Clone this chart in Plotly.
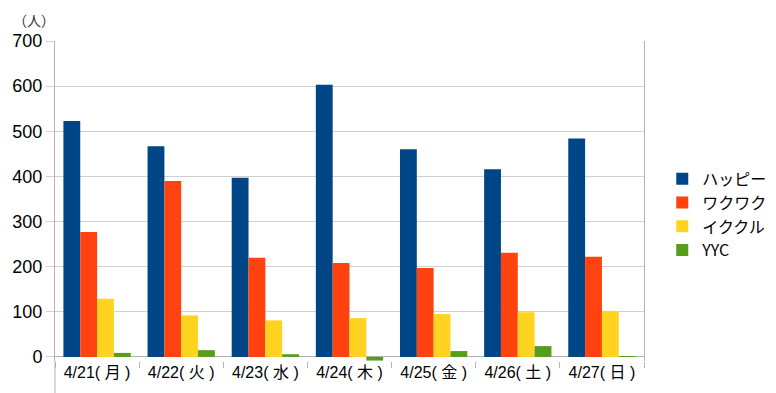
import plotly.graph_objects as go

categories = ["4/21( 月 )", "4/22( 火 )", "4/23( 水 )", "4/24( 木 )", "4/25( 金 )", "4/26( 土 )", "4/27( 日 )"]
series_names = ["ハッピー", "ワクワク", "イククル", "YYC"]
happy = [523, 467, 397, 603, 460, 416, 484]
wakuwaku = [277, 390, 220, 208, 197, 231, 222]
ikukuru = [129, 92, 81, 86, 95, 99, 102]
yyc = [9, 15, 6, -8, 13, 24, 1]
colors = ["#004586", "#ff420e", "#ffd320", "#579d1c"]
y_ticks = [0, 100, 200, 300, 400, 500, 600, 700]

FONT = "Liberation Sans, Arial, Noto Sans CJK JP, sans-serif"

fig = go.Figure()
for name, vals, col in zip(series_names, [happy, wakuwaku, ikukuru, yyc], colors):
    fig.add_trace(go.Bar(x=categories, y=vals, name=name, marker=dict(color=col, line=dict(width=0))))

# page body has an 8px default margin, so the figure is 8px smaller
fig.update_layout(
    width=768, height=385,
    margin=dict(l=47, r=132, t=33, b=32, autoexpand=False),
    paper_bgcolor="white", plot_bgcolor="white",
    barmode="group", bargap=0.2, bargroupgap=0,
    font=dict(family=FONT, color="#000000"),
    showlegend=True,
    legend=dict(x=1.031, xanchor="left", y=0.457, yanchor="middle",
                font=dict(size=16, family="Noto Sans CJK JP, Liberation Sans, sans-serif"),
                tracegroupgap=0, bgcolor="rgba(0,0,0,0)"),
    xaxis=dict(type="category", showline=False,
               ticks="outside", tickson="boundaries", ticklen=6, tickcolor="#b3b3b3",
               showgrid=False, tickfont=dict(size=16, family=FONT)),
    yaxis=dict(range=[-9, 700], tickvals=y_ticks, showgrid=True, gridcolor="#d0d0d0", gridwidth=1,
               showline=True, linecolor="#b3b3b3", linewidth=1, mirror=True,
               ticks="outside", ticklen=8, tickcolor="#d0d0d0",
               tickfont=dict(size=18, family=FONT),
               zeroline=True, zerolinecolor="#b3b3b3", zerolinewidth=1),
    annotations=[dict(text="（人）", x=-0.075, y=1.066, xref="paper", yref="paper",
                      xanchor="left", yanchor="middle", showarrow=False,
                      font=dict(size=14, family="Noto Sans CJK JP, sans-serif", color="#333333"))],
    shapes=[dict(type="line", xref="paper", yref="paper", x0=0, x1=0, y0=0, y1=-0.1,
                 line=dict(color="#b3b3b3", width=1))],
)

fig.write_html("out.html")
